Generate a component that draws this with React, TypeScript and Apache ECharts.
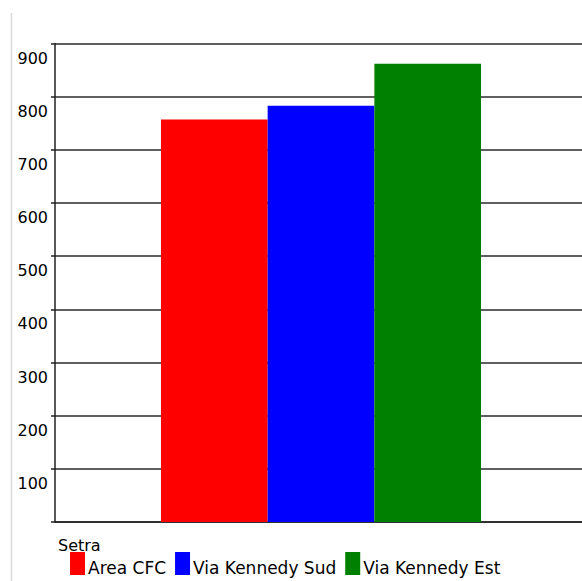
import React, { useEffect, useRef } from "react";
import * as echarts from "echarts";

// Single category with three side-by-side series
const categories = ["Setra"];
const seriesNames = ["Area CFC", "Via Kennedy Sud", "Via Kennedy Est"];
const seriesValues = [757, 783, 862];
const seriesColors = ["#ff0000", "#0000ff", "#008000"];
const yTicks = [0, 100, 200, 300, 400, 500, 600, 700, 800, 900];

const FONT = "DejaVu Sans, Verdana, sans-serif";

export default function App() {
  const ref = useRef<HTMLDivElement>(null);

  useEffect(() => {
    // chart fills the page exactly; no page scrollbars
    document.documentElement.style.overflow = "hidden";
    document.body.style.overflow = "hidden";
    document.body.style.margin = "0";
    if (!ref.current) return;
    const chart = echarts.init(ref.current, undefined, { renderer: "svg" });
    chart.setOption({
      animation: false,
      backgroundColor: "#ffffff",
      grid: {
        left: 55,
        width: 532,
        top: 43.6,
        bottom: 59,
        containLabel: false,
        outerBoundsMode: "none",
      },
      legend: {
        left: 65,
        top: 552,
        orient: "horizontal",
        icon: "rect",
        itemWidth: 15,
        itemHeight: 23,
        itemGap: 9,
        padding: [0, 0, 0, 5],
        selectedMode: false,
        data: seriesNames,
        formatter: "{t|{name}}",
        textStyle: {
          rich: {
            t: { fontFamily: FONT, fontSize: 17, color: "#000", padding: [8, 0, 0, -2] },
          },
        },
      },
      graphic: [
        {
          type: "line",
          shape: { x1: 11.5, y1: 13, x2: 11.5, y2: 581 },
          style: { stroke: "#d8d8d8", lineWidth: 1.5 },
          silent: true,
        },
        {
          type: "text",
          left: 58,
          top: 537,
          style: { text: categories[0], fontFamily: FONT, fontSize: 16, fill: "#000" },
          silent: true,
        },
      ],
      xAxis: {
        type: "category",
        data: categories,
        axisLine: { show: true, lineStyle: { color: "#222", width: 1.5 } },
        axisTick: { show: false },
        axisLabel: { show: false },
        splitLine: { show: false },
      },
      yAxis: {
        type: "value",
        min: yTicks[0],
        max: yTicks[yTicks.length - 1],
        interval: 100,
        axisLine: { show: true, lineStyle: { color: "#222", width: 1.5 } },
        axisTick: { show: true, length: 4, lineStyle: { color: "#222", width: 1.5 } },
        axisLabel: {
          margin: 7,
          fontFamily: FONT,
          fontSize: 16,
          color: "#000",
          verticalAlign: "top",
          lineHeight: 29,
          formatter: (v: number) => (v === 0 ? "" : String(v)),
        },
        splitLine: { show: true, lineStyle: { color: "#2a2a2a", width: 1.5 } },
      },
      series: seriesNames.map((name, i) => ({
        name,
        type: "bar",
        data: [seriesValues[i]],
        barWidth: 106.7,
        barGap: "0%",
        itemStyle: { color: seriesColors[i] },
      })),
    });
    return () => chart.dispose();
  }, []);

  return (
    <div
      ref={ref}
      style={{ position: "fixed", left: 0, top: 0, width: 582, height: 581 }}
    />
  );
}
